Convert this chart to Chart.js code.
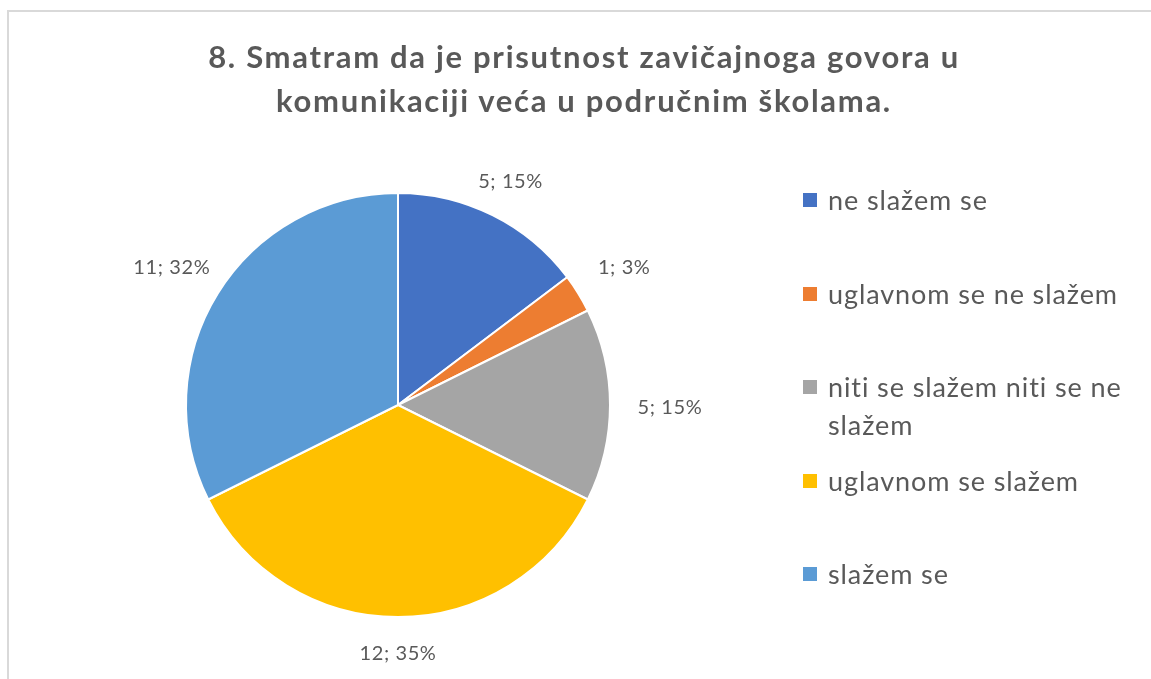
<!DOCTYPE html>
<html>
<head>
<meta charset="utf-8">
<script src="https://cdn.jsdelivr.net/npm/chart.js@4/dist/chart.umd.min.js"></script>
<style>
    html, body { margin: 0; padding: 0; background: #fff; }
    body { width: 1151px; height: 679px; position: relative; overflow: hidden; font-family: Lato, 'Open Sans', sans-serif; }
    .frame { position: absolute; left: 7px; top: 10px; right: -10px; bottom: -10px; border-top: 2px solid #d9d9d9; border-left: 2px solid #d9d9d9; }
    #chartTitle { position: absolute; left: 84px; top: 34px; width: 1000px; text-align: center; font-weight: bold; font-size: 31px; letter-spacing: 1.7px; line-height: 44px; color: #595959; }
    #chartWrap { position: absolute; left: 0; top: 0; width: 1151px; height: 679px; }
    #legend { position: absolute; left: 803px; top: 181px; width: 340px; }
    .legend-item { display: flex; align-items: flex-start; height: 93.5px; }
    .legend-box { width: 14px; height: 14px; margin-top: 12px; flex: none; }
    .legend-text { margin-left: 11px; font-size: 27px; letter-spacing: 0.9px; line-height: 38px; color: #595959; }
</style>
</head>
<body>
<div class="frame"></div>
<div id="chartWrap"><canvas id="pieChart" width="1151" height="679"></canvas></div>
<div id="chartTitle">8. Smatram da je prisutnost zavičajnoga govora u<br>komunikaciji veća u područnim školama.</div>
<div id="legend"></div>

<script>
// Chart data
const categories = ['ne slažem se', 'uglavnom se ne slažem', 'niti se slažem niti se ne slažem', 'uglavnom se slažem', 'slažem se'];
const counts = [5, 1, 5, 12, 11];
const sliceColors = ['#4472C4', '#ED7D31', '#A5A5A5', '#FFC000', '#5B9BD5'];

// Draw "value; percent%" labels outside each slice
const outsideLabels = {
    id: 'outsideLabels',
    afterDatasetsDraw(chart) {
        const ctx = chart.ctx;
        const meta = chart.getDatasetMeta(0);
        const total = counts.reduce((a, b) => a + b, 0);
        ctx.save();
        ctx.font = '20px Lato, "Open Sans", sans-serif';
        ctx.letterSpacing = '0.6px';
        ctx.fillStyle = '#595959';
        ctx.textAlign = 'center';
        ctx.textBaseline = 'middle';
        meta.data.forEach((arc, i) => {
            const p = arc.getProps(['x', 'y', 'startAngle', 'endAngle', 'outerRadius'], true);
            const mid = (p.startAngle + p.endAngle) / 2;
            const cx = Math.cos(mid), cy = Math.sin(mid);
            const off = Math.sqrt(Math.pow(60 * cx, 2) + Math.pow(34 * cy, 2));
            const r = p.outerRadius + off;
            const pct = Math.round(counts[i] / total * 100);
            ctx.fillText(`${counts[i]}; ${pct}%`, p.x + cx * r, p.y + cy * r + 3);
        });
        ctx.restore();
    }
};

const chart = new Chart(document.getElementById('pieChart').getContext('2d'), {
    type: 'pie',
    data: {
        labels: categories,
        datasets: [{
            data: counts,
            backgroundColor: sliceColors,
            borderColor: '#ffffff',
            borderWidth: 2
        }]
    },
    options: {
        responsive: false,
        animation: false,
        events: [],
        layout: {
            padding: { left: 185, top: 192, right: 540, bottom: 61 }
        },
        plugins: {
            legend: { display: false },
            title: { display: false },
            tooltip: { enabled: false }
        }
    },
    plugins: [outsideLabels]
});

// Build legend from the chart's own legend items
const legendEl = document.getElementById('legend');
chart.options.plugins.legend.labels.generateLabels(chart).forEach(item => {
    const row = document.createElement('div');
    row.className = 'legend-item';
    const box = document.createElement('span');
    box.className = 'legend-box';
    box.style.background = item.fillStyle;
    const text = document.createElement('span');
    text.className = 'legend-text';
    text.textContent = item.text;
    row.appendChild(box);
    row.appendChild(text);
    legendEl.appendChild(row);
});
</script>
</body>
</html>
